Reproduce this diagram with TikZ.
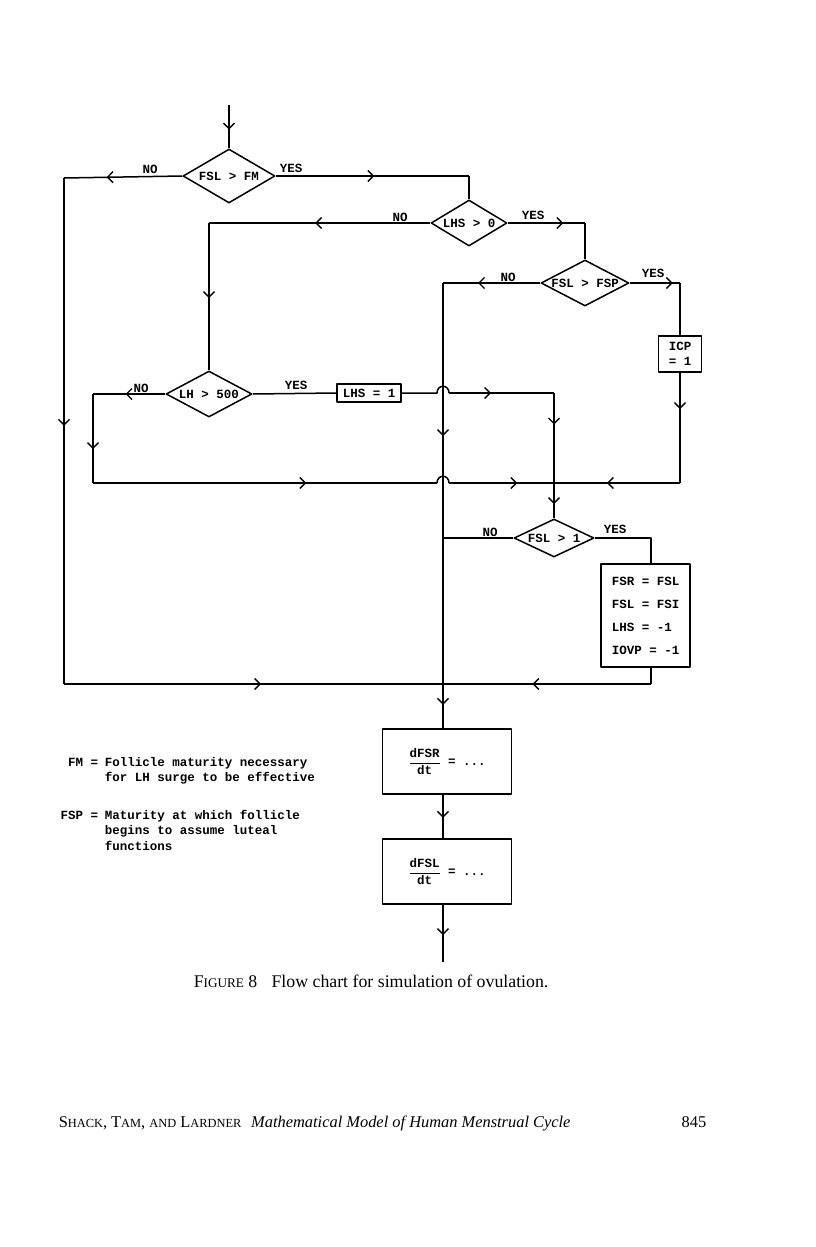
\documentclass[tikz,border=0pt]{standalone}
\usepackage{fontspec}
\setmainfont{Liberation Serif}
\setmonofont{Liberation Mono}
\usetikzlibrary{shapes.geometric,decorations.markings,arrows.meta,calc}
\newcommand\myscA[2]{#1{\fontsize{13.2}{14}\selectfont #2}}
\newcommand\myscB[2]{#1{\fontsize{12.4}{14}\selectfont #2}}
\begin{document}
\begin{tikzpicture}[x=1pt,y=-1pt,
  line width=1.5pt, line join=round,
  ft/.style={font=\fontsize{12.5}{15}\selectfont\ttfamily\bfseries},
  dec/.style={draw, diamond, inner sep=-2pt, ft},
  box/.style={draw, rectangle, inner sep=0pt, ft},
  lab/.style={ft, inner sep=0pt},
  ar/.style={postaction={decorate},decoration={markings,mark=at position #1 with {\arrow{Straight Barb[length=5.5pt,width=11pt,line width=1.4pt]}}}},
]
\useasboundingbox (0,0) rectangle (816,1247);

% decisions
\node[dec, minimum width=92pt, minimum height=54pt, aspect=1.7] (d1) at (229,176) {FSL > FM};
\node[dec, minimum width=76pt, minimum height=46pt, aspect=1.65] (d2) at (469,223) {LHS > 0};
\node[dec, minimum width=88pt, minimum height=46pt, aspect=1.9] (d4) at (585,283) {FSL > FSP};
\node[dec, minimum width=86pt, minimum height=46pt, aspect=1.87] (d3) at (209,394) {LH > 500};
\node[dec, minimum width=80pt, minimum height=38pt, aspect=2.1] (d5) at (554,538) {FSL > 1};

% boxes
\node[box, minimum width=43pt, minimum height=36pt, align=center] (icp) at (680,354) {ICP\\= 1};
\node[box, minimum width=64pt, minimum height=18pt] (lhs1) at (369,393) {LHS = 1};
\node[box, minimum width=89pt, minimum height=103pt, align=left] (fsr) at (645.5,615.5)
  {FSR = FSL\\[8pt]FSL = FSI\\[8pt]LHS = -1\\[8pt]IOVP = -1};
\node[box, minimum width=129pt, minimum height=65pt] (b1) at (447,761.5)
  {$\displaystyle\frac{\mbox{dFSR}}{\mbox{dt}}$ = ...};
\node[box, minimum width=129pt, minimum height=65pt] (b2) at (447,871.5)
  {$\displaystyle\frac{\mbox{dFSL}}{\mbox{dt}}$ = ...};

% coordinates
\coordinate (top) at (229,105);
\coordinate (cl1) at (64,178);
\coordinate (c1) at (d1.east -| d2.north);
\coordinate (c2) at (d2.west -| d3.north);
\coordinate (c3) at (d2.east -| d4.north);
\coordinate (c4) at (443,283);
\coordinate (c5) at (d4.east -| icp.north);
\coordinate (j1) at (554,483);
\coordinate (c6) at (icp.south |- j1);
\coordinate (c7) at (lhs1.east -| j1);
\coordinate (c8) at (93,394);
\coordinate (c9) at (c8 |- j1);
\coordinate (c10) at (651,538);
\coordinate (m1) at (c4 |- d5.west);
\coordinate (m2) at (443,684);
\coordinate (cl2) at (cl1 |- m2);
\coordinate (c11) at (c10 |- m2);
\coordinate (m3) at (m2 |- b1.north);
\coordinate (m4) at (m2 |- b1.south);
\coordinate (m5) at (m2 |- b2.north);
\coordinate (m6) at (m2 |- b2.south);
\coordinate (bot) at (443,962);

% connectors
\draw[ar=0.57] (top) -- (d1.north);
\draw[ar=0.64] (d1.west) -- (cl1);
\draw[ar=0.49] (cl1) -- (cl2);
\draw[ar=0.52] (cl2) -- (m2);
\draw[ar=0.51] (d1.east) -- (c1);
\draw (c1) -- (d2.north);
\draw[ar=0.52] (d2.west) -- (c2);
\draw[ar=0.51] (c2) -- (d3.north);
\draw[ar=0.72] (d2.east) -- (c3);
\draw (c3) -- (d4.north);
\draw[ar=0.64] (d4.west) -- (c4);
\draw[ar=0.86] (d4.east) -- (c5);
\draw (c5) -- (icp.north);
\draw[ar=0.33] (icp.south) -- (c6);
\draw[ar=0.58] (c6) -- (j1);
\draw (d3.east) -- (lhs1.west);
\draw (lhs1.east) -- ($(c4 |- lhs1.east)+(-6,0)$) .. controls +(0,-9) and +(0,-9) .. ($(c4 |- lhs1.east)+(6,0)$);
\draw[ar=0.40] ($(c4 |- lhs1.east)+(6,0)$) -- (c7);
\draw[ar=0.35] (c7) -- (j1);
\draw[ar=0.55] (d3.west) -- (c8);
\draw[ar=0.62] (c8) -- (c9);
\draw[ar=0.62] (c9) -- ($(c4 |- j1)+(-6,0)$);
\draw ($(c4 |- j1)+(-6,0)$) .. controls +(0,-9) and +(0,-9) .. ($(c4 |- j1)+(6,0)$);
\draw[ar=0.65] ($(c4 |- j1)+(6,0)$) -- (j1);
\draw[ar=0.6] (j1) -- (d5.north);
\draw (d5.west) -- (m1);
\draw (d5.east) -- (c10) -- (c10 |- fsr.north);
\draw (c10 |- fsr.south) -- (c11);
\draw[ar=0.57] (c11) -- (m2);
\draw[ar=0.60] (c4) -- (m1);
\draw (m1) -- (m2);
\draw[ar=0.47] (m2) -- (m3);
\draw[ar=0.53] (m4) -- (m5);
\draw[ar=0.53] (m6) -- (bot);

% branch labels
\node[lab] (no1) at (150,169) {NO};
\node[lab] (yes1) at (291,168) {YES};
\node[lab] (no2) at (400,217) {NO};
\node[lab] (yes2) at (533,215) {YES};
\node[lab] (no4) at (508,277) {NO};
\node[lab] (yes4) at (653,273) {YES};
\node[lab] (no3) at (141,388) {NO};
\node[lab] (yes3) at (296,385) {YES};
\node[lab] (no5) at (490,532) {NO};
\node[lab] (yes5) at (615,529) {YES};

% legend
\node[lab, anchor=base east] (k1) at (99,766.5) {FM =};
\node[lab, anchor=base west] (t1) at (104,766.5) {Follicle maturity necessary};
\node[lab, anchor=base west] (t2) at (104,781.5) {for LH surge to be effective};
\node[lab, anchor=base east] (k2) at (99,819.5) {FSP =};
\node[lab, anchor=base west] (t3) at (104,819.5) {Maturity at which follicle};
\node[lab, anchor=base west] (t4) at (104,834.5) {begins to assume luteal};
\node[lab, anchor=base west] (t5) at (104,850) {functions};

% caption and footer
\node[inner sep=0pt, anchor=base west, font=\fontsize{17.8}{20}\selectfont] (cap) at (193,987)
  {\myscA{F}{IGURE} 8\hspace{0.8em}Flow chart for simulation of ovulation.};
\node[inner sep=0pt, anchor=base west, font=\fontsize{16.4}{19}\selectfont] (foot) at (58,1127)
  {\myscB{S}{HACK}, \myscB{T}{AM}, \myscB{}{AND} \myscB{L}{ARDNER}\hspace{0.6em}\textit{Mathematical Model of Human Menstrual Cycle}};
\node[inner sep=0pt, anchor=base east, font=\fontsize{16.4}{19}\selectfont] (pg) at (707,1127) {845};
\end{tikzpicture}
\end{document}
